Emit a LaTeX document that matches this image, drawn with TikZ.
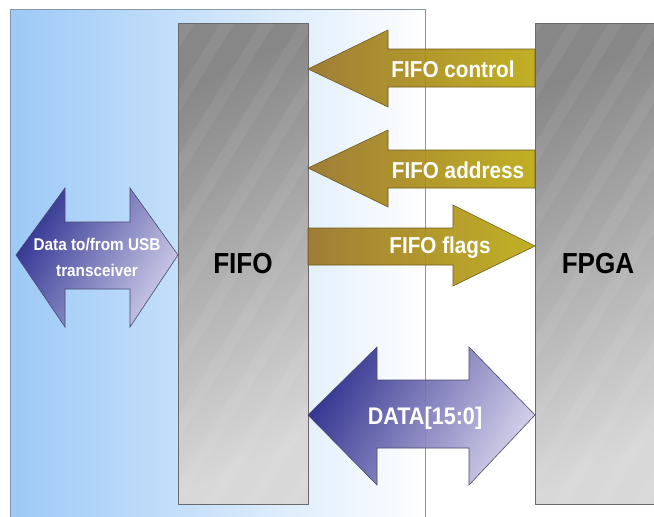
\documentclass[tikz,border=0pt]{standalone}
\usepackage{fontspec}
\newfontfamily\labfont[FakeStretch=0.9]{Liberation Sans}
\definecolor{panelL}{HTML}{9CC9F6}
\definecolor{panelM}{HTML}{C8E2FA}
\definecolor{panelEdge}{HTML}{8796A8}
\definecolor{chipTop}{HTML}{878787}
\definecolor{chipBot}{HTML}{D8D8D8}
\definecolor{chipEdge}{HTML}{6A6A6A}
\definecolor{goldL}{HTML}{9A7426}
\definecolor{goldR}{HTML}{BCAA12}
\definecolor{goldEdge}{HTML}{6E5A20}
\definecolor{blueL}{HTML}{28288A}
\definecolor{blueR}{HTML}{CFCBE8}
\definecolor{blueEdge}{HTML}{4A4A70}
\tikzset{
  chip/.style={draw=chipEdge, line width=0.8pt, shade, top color=chipTop,
    bottom color=chipBot, shading angle=25, inner sep=0pt, outer sep=0pt,
    anchor=north west, text=black,
    font=\labfont\bfseries\fontsize{29}{29}\selectfont,
    % faint diagonal sheen, drawn relative to the node centre
    path picture={\foreach \i in {-500,-460,...,500}
      \draw[white, opacity=0.06, line width=12pt] (\i-160,260) -- (\i+160,-260);}},
  goldarrow/.style={draw=goldEdge, line width=0.6pt, left color=goldL,
    right color=goldR, fill opacity=0.92},
  bluearrow/.style={draw=blueEdge, line width=0.6pt, left color=blueL,
    right color=blueR, shading angle=60, fill opacity=0.92},
  lab/.style={text=white, inner sep=0pt, anchor=base,
    font=\labfont\bfseries\fontsize{23}{23}\selectfont}
}
\begin{document}
\begin{tikzpicture}[x=1pt,y=-1pt]
\useasboundingbox (0,0) rectangle (654,517);
\clip (0,0) rectangle (654,517);
\fill[white] (0,0) rectangle (654,517);

% light blue host panel
\path[draw=panelEdge, line width=0.8pt, left color=panelL, middle color=panelM,
  right color=white] (10,9) rectangle (425,540);

% the two devices
\node[chip, minimum width=130pt, minimum height=481pt] (fifo) at (178,23) {FIFO};
\node[chip, minimum width=126pt, minimum height=481pt] (fpga) at (535,23) {FPGA};

% control and address buses, FPGA to FIFO
\path[goldarrow] (fifo.east |- 0,69) -- (388,30) -- (388,49) -- (fpga.west |- 0,49)
  -- (fpga.west |- 0,87) -- (388,87) -- (388,107) -- cycle;
\path[goldarrow] (fifo.east |- 0,168) -- (388,130) -- (388,150) -- (fpga.west |- 0,150)
  -- (fpga.west |- 0,188) -- (388,188) -- (388,207) -- cycle;
% flags, FIFO to FPGA
\path[goldarrow] (fifo.east |- 0,228) -- (453,228) -- (453,205) -- (fpga.west |- 0,246)
  -- (453,286) -- (453,265) -- (fifo.east |- 0,265) -- cycle;

% data bus between FIFO and FPGA
\path[bluearrow] (fifo.east |- 0,415) -- (377,347) -- (377,380) -- (469,380)
  -- (469,347) -- (fpga.west |- 0,415) -- (469,485) -- (469,448) -- (377,448)
  -- (377,485) -- cycle;

% data to and from the USB transceiver
\coordinate (usb) at (16,255);
\path[bluearrow] (usb) -- (65,188) -- (65,222) -- (130,222) -- (130,188)
  -- (fifo.west |- usb) -- (130,327) -- (130,289) -- (65,289) -- (65,327) -- cycle;

% labels
\node[lab] (lctl) at (453,77) {FIFO control};
\node[lab] (ladr) at (458,178) {FIFO address};
\node[lab] (lflg) at (440,253) {FIFO flags};
\node[lab, font=\labfont\bfseries\fontsize{24}{24}\selectfont] (ldat) at (425,424) {DATA[15:0]};
\node[lab, anchor=center, align=center,
  font=\labfont\bfseries\fontsize{17}{26}\selectfont] (lusb) at (97,257)
  {Data to/from USB\\transceiver};
\end{tikzpicture}
\end{document}
